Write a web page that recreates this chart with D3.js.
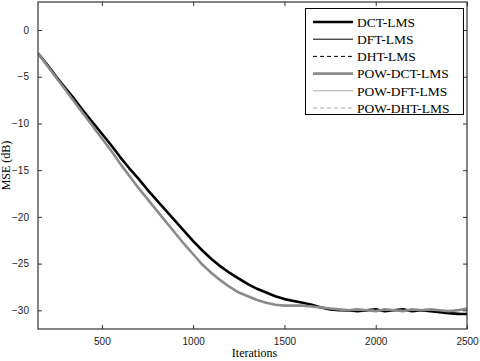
<!DOCTYPE html>
<html>
<head>
<meta charset="utf-8">
<script src="https://cdn.jsdelivr.net/npm/d3@7"></script>
<style>
  body { margin: 0; background: #fff; }
  svg { display: block; }
</style>
</head>
<body>
<svg id="chart" width="480" height="361"></svg>
<script>
// iterations (every 50 samples)
var iterations = d3.range(150, 2501, 50);

var dctLms = [-2.5, -3.7, -5.0, -6.2, -7.4, -8.7, -9.9, -11.1, -12.3, -13.6,
    -14.8, -15.9, -17.1, -18.2, -19.3, -20.4, -21.5, -22.6, -23.6, -24.5,
    -25.3, -26.0, -26.6, -27.2, -27.7, -28.1, -28.5, -28.8, -29.0, -29.2,
    -29.4, -29.7, -29.9, -30.0, -30.0, -30.1, -30.0, -29.9, -30.1, -30.0,
    -29.9, -30.1, -30.0, -30.1, -30.2, -30.3, -30.4, -30.4];
var dftLms = [-2.5, -3.7, -5.0, -6.2, -7.4, -8.7, -9.9, -11.1, -12.3, -13.6,
    -14.8, -15.9, -17.1, -18.2, -19.3, -20.4, -21.5, -22.6, -23.6, -24.5,
    -25.3, -26.0, -26.6, -27.2, -27.7, -28.1, -28.5, -28.8, -29.0, -29.2,
    -29.4, -29.7, -29.9, -30.0, -30.1, -30.0, -30.0, -30.0, -30.1, -29.9,
    -30.0, -30.1, -30.0, -30.1, -30.2, -30.3, -30.3, -30.4];
var dhtLms = [-2.5, -3.7, -5.0, -6.2, -7.4, -8.7, -9.9, -11.1, -12.3, -13.6,
    -14.8, -15.9, -17.1, -18.2, -19.3, -20.4, -21.5, -22.6, -23.6, -24.5,
    -25.3, -26.0, -26.6, -27.2, -27.7, -28.1, -28.5, -28.8, -29.0, -29.2,
    -29.4, -29.7, -29.9, -30.0, -30.0, -30.1, -30.1, -29.9, -30.0, -30.0,
    -30.0, -30.0, -30.1, -30.1, -30.2, -30.2, -30.4, -30.4];
var powDctLms = [-2.5, -3.8, -5.1, -6.4, -7.7, -9.0, -10.3, -11.6, -12.9, -14.3,
    -15.6, -16.9, -18.1, -19.3, -20.5, -21.7, -22.9, -24.0, -25.1, -26.0,
    -26.8, -27.5, -28.1, -28.5, -28.9, -29.2, -29.4, -29.5, -29.5, -29.5,
    -29.6, -29.7, -29.8, -29.9, -30.0, -29.9, -30.0, -30.1, -29.9, -30.0,
    -30.1, -29.9, -30.0, -29.9, -30.0, -30.1, -30.0, -29.8];
var powDftLms = [-2.5, -3.8, -5.1, -6.4, -7.7, -9.0, -10.3, -11.6, -12.9, -14.3,
    -15.6, -16.9, -18.1, -19.3, -20.5, -21.7, -22.9, -24.0, -25.1, -26.0,
    -26.8, -27.5, -28.1, -28.5, -28.9, -29.2, -29.4, -29.5, -29.5, -29.5,
    -29.6, -29.7, -29.8, -29.9, -29.9, -30.0, -30.0, -30.0, -30.0, -30.0,
    -30.0, -30.0, -30.0, -29.9, -30.0, -30.0, -30.0, -29.9];
var powDhtLms = [-2.5, -3.8, -5.1, -6.4, -7.7, -9.0, -10.3, -11.6, -12.9, -14.3,
    -15.6, -16.9, -18.1, -19.3, -20.5, -21.7, -22.9, -24.0, -25.1, -26.0,
    -26.8, -27.5, -28.1, -28.5, -28.9, -29.2, -29.4, -29.5, -29.5, -29.5,
    -29.6, -29.7, -29.8, -29.9, -30.0, -30.0, -29.9, -30.0, -30.0, -30.0,
    -30.0, -30.0, -29.9, -30.0, -30.0, -30.0, -29.9, -29.9];

var xTicks = [500, 1000, 1500, 2000, 2500];
var yTicks = [0, -5, -10, -15, -20, -25, -30];

var series = [
    { name: "DCT-LMS", values: dctLms, color: "#000", width: 2.6, dash: null },
    { name: "DFT-LMS", values: dftLms, color: "#000", width: 1, dash: null },
    { name: "DHT-LMS", values: dhtLms, color: "#000", width: 1, dash: "4,3" },
    { name: "POW-DCT-LMS", values: powDctLms, color: "#8a8a8a", width: 2.6, dash: null },
    { name: "POW-DFT-LMS", values: powDftLms, color: "#a8a8a8", width: 1, dash: null },
    { name: "POW-DHT-LMS", values: powDhtLms, color: "#a8a8a8", width: 1, dash: "4,3" }
];

var svg = d3.select("#chart");
var plotLeft = 38, plotRight = 467, plotTop = 2, plotBottom = 329;

var x = d3.scaleLinear().domain([150, 2500]).range([plotLeft, plotRight]);
var y = d3.scaleLinear().domain([-32, 3]).range([plotBottom, plotTop]);

var tickFont = "'Liberation Sans', Arial, sans-serif";
var serif = "'Liberation Serif', 'Times New Roman', serif";

// plot lines, clipped to the axes box
svg.append("clipPath").attr("id", "plot-clip")
    .append("rect")
    .attr("x", plotLeft).attr("y", plotTop)
    .attr("width", plotRight - plotLeft).attr("height", plotBottom - plotTop);

var line = d3.line()
    .x(function (d, i) { return x(iterations[i]); })
    .y(function (d) { return y(d); });

// thin lines first so the thick ones stay on top
var gLines = svg.append("g").attr("clip-path", "url(#plot-clip)");
var drawOrder = [1, 2, 0, 4, 5, 3];
drawOrder.forEach(function (k) {
    var s = series[k];
    gLines.append("path")
        .attr("d", line(s.values))
        .attr("fill", "none")
        .attr("stroke", s.color)
        .attr("stroke-width", s.width)
        .attr("stroke-dasharray", s.dash)
        .attr("stroke-linejoin", "round");
});

// axes (ticks pointing inwards, mirrored on top and right)
function styleAxis(g) {
    g.select(".domain").remove();
    g.selectAll(".tick line").attr("stroke", "#333");
    g.selectAll(".tick text")
        .attr("font-family", tickFont)
        .attr("font-size", "10px")
        .attr("fill", "#222");
}

svg.append("g")
    .attr("transform", "translate(0," + plotBottom + ")")
    .call(d3.axisBottom(x).tickValues(xTicks).tickSizeInner(-4).tickPadding(9).tickFormat(d3.format("d")))
    .call(styleAxis);
svg.append("g")
    .attr("transform", "translate(0," + plotTop + ")")
    .call(d3.axisTop(x).tickValues(xTicks).tickSizeInner(-4).tickFormat(""))
    .call(styleAxis);
svg.append("g")
    .attr("transform", "translate(" + plotLeft + ",0)")
    .call(d3.axisLeft(y).tickValues(yTicks).tickSizeInner(-4).tickPadding(9).tickFormat(d3.format("d")))
    .call(styleAxis);
svg.append("g")
    .attr("transform", "translate(" + plotRight + ",0)")
    .call(d3.axisRight(y).tickValues(yTicks).tickSizeInner(-4).tickFormat(""))
    .call(styleAxis);

svg.append("rect")
    .attr("x", plotLeft).attr("y", plotTop)
    .attr("width", plotRight - plotLeft).attr("height", plotBottom - plotTop)
    .attr("fill", "none")
    .attr("stroke", "#333")
    .attr("stroke-width", 1.2);

// axis titles
svg.append("text")
    .attr("x", (plotLeft + plotRight) / 2 + 2)
    .attr("y", 357)
    .attr("text-anchor", "middle")
    .attr("font-family", serif)
    .attr("font-size", "12px")
    .text("Iterations");

svg.append("text")
    .attr("transform", "translate(10," + ((plotTop + plotBottom) / 2) + ") rotate(-90)")
    .attr("text-anchor", "middle")
    .attr("font-family", serif)
    .attr("font-size", "12px")
    .text("MSE (dB)");

// legend
var legend = svg.append("g");
legend.append("rect")
    .attr("x", 305.5).attr("y", 8.5)
    .attr("width", 158).attr("height", 106)
    .attr("fill", "#fff")
    .attr("stroke", "#000")
    .attr("stroke-width", 1);

var rowY = d3.scalePoint().domain(series.map(function (s) { return s.name; }))
    .range([22, 108]);

series.forEach(function (s) {
    var yy = rowY(s.name);
    legend.append("line")
        .attr("x1", 313).attr("x2", 353)
        .attr("y1", yy).attr("y2", yy)
        .attr("stroke", s.color)
        .attr("stroke-width", s.width)
        .attr("stroke-dasharray", s.dash);
    legend.append("text")
        .attr("x", 357)
        .attr("y", yy)
        .attr("dy", "0.35em")
        .attr("font-family", serif)
        .attr("font-size", "13.5px")
        .attr("fill", "#000")
        .text(s.name);
});
</script>
</body>
</html>
